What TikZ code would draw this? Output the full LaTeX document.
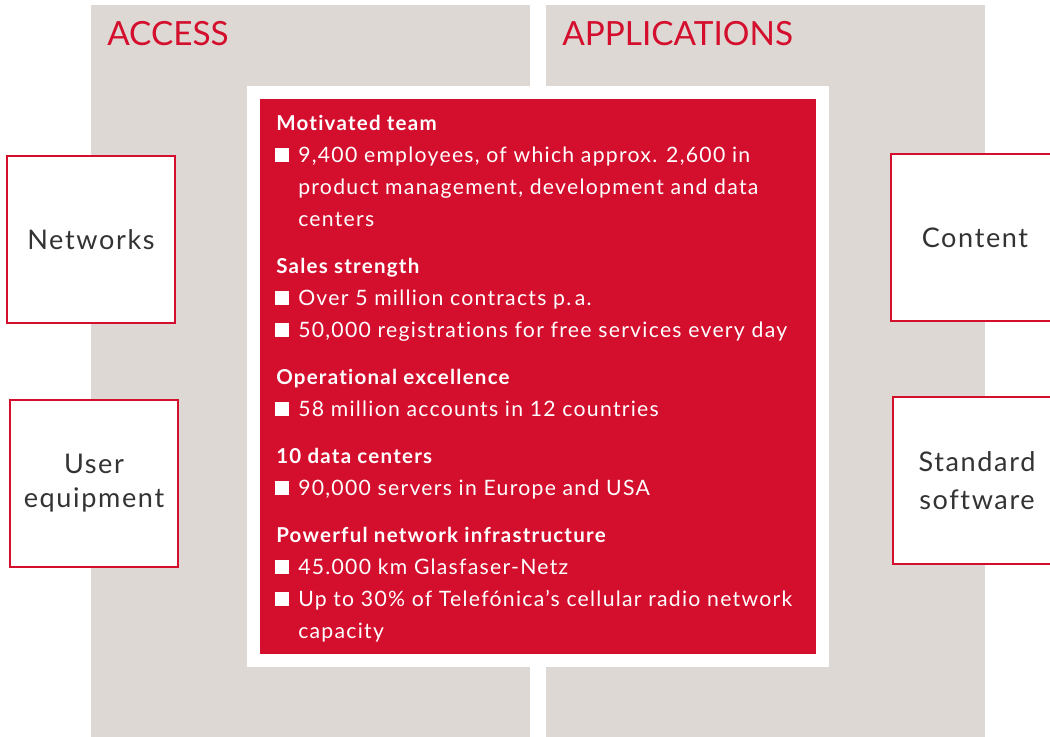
\documentclass[tikz,border=0pt]{standalone}
\usepackage{fontspec}
\newfontfamily\uifont{Lato}[LetterSpace=6.0, Ligatures=NoCommon]
\newfontfamily\titlefont{Lato}
\definecolor{uired}{HTML}{D40E2D}
\definecolor{uigrey}{HTML}{DDD8D3}
\definecolor{uitext}{HTML}{333333}
\tikzset{
  panel/.style={fill=uigrey, draw=none},
  sidebox/.style={draw=uired, line width=1.5pt, fill=white, minimum width=126pt, minimum height=125pt,
    align=center, text=uitext, font=\uifont\fontsize{20.3}{28}\selectfont},
  title/.style={anchor=base west, inner sep=0pt, text=uired, font=\titlefont\fontsize{25}{30}\selectfont},
  headline/.style={anchor=base west, inner sep=0pt, text=white, font=\uifont\bfseries\fontsize{15.4}{24}\selectfont},
  itemtext/.style={anchor=base west, inner sep=0pt, align=left, text=white, font=\uifont\fontsize{15.9}{24}\selectfont},
  bullet/.style={fill=white, draw=none, minimum size=10.5pt, inner sep=0pt}
}
\begin{document}
\begin{tikzpicture}[x=0.75pt,y=0.75pt,yscale=-1,xscale=1]
\useasboundingbox (0,0) rectangle (1050,736);

% Panels
\fill [panel] (91,5) rectangle (530,740);
\fill [panel] (546,5) rectangle (985,740);
\node (access) [title] at (107,45) {ACCESS};
\node (applications) [title] at (562,45) {APPLICATIONS};

% Centre box
\fill [white] (247,86) rectangle (829,667);
\fill [uired] (260,99) rectangle (816,654);

% Text Nodes (base = last line)
\node (team) [headline] at (276,130) {Motivated team};
\node (bteam) [bullet, anchor=south west] at (275,162.7) {};
\node (employees) [itemtext] at (298,226.7) {9,400 employees, of which approx. 2,600 in\\product management, development and data\\centers};

\node (sales) [headline] at (276,273) {Sales strength};
\node (bcontracts) [bullet, anchor=south west] at (275,305) {};
\node (contracts) [itemtext] at (298,305) {Over 5 million contracts p.\,a.};
\node (bregistrations) [bullet, anchor=south west] at (275,337) {};
\node (registrations) [itemtext] at (298,337) {50,000 registrations for free services every day};

\node (operations) [headline] at (276,384) {Operational excellence};
\node (baccounts) [bullet, anchor=south west] at (275,416) {};
\node (accounts) [itemtext] at (298,416) {58 million accounts in 12 countries};

\node (datacenters) [headline] at (276,463) {10 data centers};
\node (bservers) [bullet, anchor=south west] at (275,495) {};
\node (servers) [itemtext] at (298,495) {90,000 servers in Europe and USA};

\node (network) [headline] at (276,542) {Powerful network infrastructure};
\node (bfibre) [bullet, anchor=south west] at (275,574) {};
\node (fibre) [itemtext] at (298,574) {45.000 km Glasfaser-Netz};
\node (bcapacity) [bullet, anchor=south west] at (275,606) {};
\node (capacity) [itemtext] at (298,638) {Up to 30\% of Telefónica’s cellular radio network\\capacity};

% Side boxes
\node (networks) [sidebox] at (91,239.5) {Networks};
\node (equipment) [sidebox] at (94,483.5) {\raisebox{-2.5pt}{User}\\equipment};
\node (content) [sidebox] at (975,237.5) {Content};
\node (software) [sidebox] at (977,480.5) {Standard\\software};

\end{tikzpicture}
\end{document}
